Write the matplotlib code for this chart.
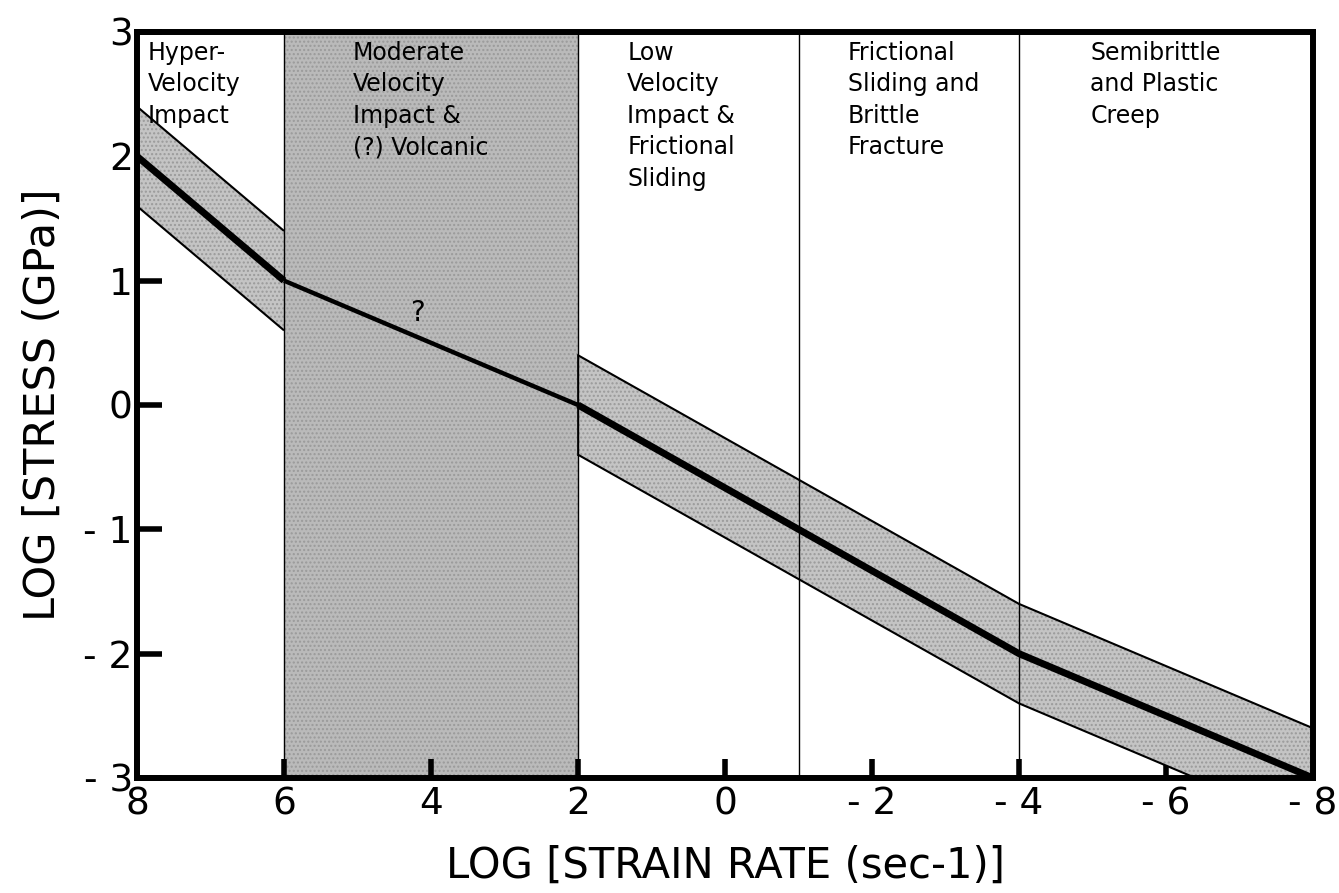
import matplotlib
matplotlib.use("Agg")
import matplotlib.pyplot as plt
import numpy as np

# ---- data ----
center_x = [8, 6, 2, -4, -8]
center_y = [2, 1, 0, -2, -3]

hyper_x = [8, 6]
hyper_upper = [2.4, 1.4]
hyper_lower = [1.6, 0.6]

low_x = [2, -4, -8]
low_upper = [0.4, -1.6, -2.6]
low_lower = [-0.4, -2.4, -3.4]

moderate_span = [6, 2]
region_bounds = [6, 2, -1, -4]

region_labels = [
    "Hyper-\nVelocity\nImpact",
    "Moderate\nVelocity\nImpact &\n(?) Volcanic",
    "Low\nVelocity\nImpact &\nFrictional\nSliding",
    "Frictional\nSliding and\nBrittle\nFracture",
    "Semibrittle\nand Plastic\nCreep",
]
region_label_x = [7.85, 5.06, 1.33, -1.67, -4.97]

xticks = [8, 6, 4, 2, 0, -2, -4, -6, -8]
xtick_labels = ["8", "6", "4", "2", "0", "- 2", "- 4", "- 6", "- 8"]
yticks = [3, 2, 1, 0, -1, -2, -3]
ytick_labels = ["3", "2", "1", "0", "- 1", "- 2", "- 3"]

plt.rcParams['font.family'] = ["DejaVu Sans"]

fig = plt.figure(figsize=(13.39, 8.93), dpi=100)
ax = fig.add_axes([0.1023, 0.1288, 0.8783, 0.8354])

band_color = "#c4c4c4"
mod_color = "#bababa"
tex_color = "#9a9a9a"

# moderate shaded region
ax.axvspan(moderate_span[0], moderate_span[1], facecolor=mod_color,
           edgecolor="none", zorder=1)
ax.axvspan(moderate_span[0], moderate_span[1], facecolor="none",
           edgecolor=tex_color, hatch="....", linewidth=0, zorder=1.1)

# bands
for xs, lo, hi in [(hyper_x, hyper_lower, hyper_upper),
                   (low_x, low_lower, low_upper)]:
    ax.fill_between(xs, lo, hi, facecolor=band_color, edgecolor="none",
                    zorder=2)
    ax.fill_between(xs, lo, hi, facecolor="none", edgecolor=tex_color,
                    hatch="....", linewidth=0, zorder=2.1)
for xs, ys in [(hyper_x, hyper_upper), (hyper_x, hyper_lower),
               (low_x, low_upper), (low_x, low_lower)]:
    ax.plot(xs, ys, color="black", lw=1.5, zorder=3, solid_capstyle="butt")
ax.plot([low_x[0], low_x[0]], [low_lower[0], low_upper[0]], color="black",
        lw=1.2, zorder=3)

# region boundaries
for b in region_bounds:
    ax.axvline(b, color="black", lw=1.0, zorder=3)

# center line
ax.plot(center_x[:2], center_y[:2], color="black", lw=5.0, zorder=4,
        solid_capstyle="butt")
ax.plot(center_x[1:3], center_y[1:3], color="black", lw=3.2, zorder=4,
        solid_capstyle="butt")
ax.plot(center_x[2:], center_y[2:], color="black", lw=5.0, zorder=4,
        solid_capstyle="butt", solid_joinstyle="round")

ax.text(4.19, 0.74, "?", fontsize=20, ha="center", va="center", zorder=5)

for lbl, lx in zip(region_labels, region_label_x):
    ax.text(lx, 2.93, lbl, fontsize=17, ha="left", va="top",
            linespacing=1.4, zorder=5)

ax.set_xlim(8, -8)
ax.set_ylim(-3, 3)
ax.set_xticks(xticks)
ax.set_xticklabels(xtick_labels)
ax.set_yticks(yticks)
ax.set_yticklabels(ytick_labels)
ax.tick_params(axis="y", direction="in", length=18, width=4, labelsize=27,
               pad=3)
ax.tick_params(axis="x", direction="in", length=14, width=4, labelsize=27,
               pad=6)
for s in ax.spines.values():
    s.set_linewidth(4.3)
    s.set_zorder(6)

ax.set_xlabel("LOG [STRAIN RATE (sec-1)]", fontsize=30, labelpad=16)
ax.set_ylabel("LOG [STRESS (GPa)]", fontsize=31, labelpad=14)

fig.savefig("out.png", dpi=100)
